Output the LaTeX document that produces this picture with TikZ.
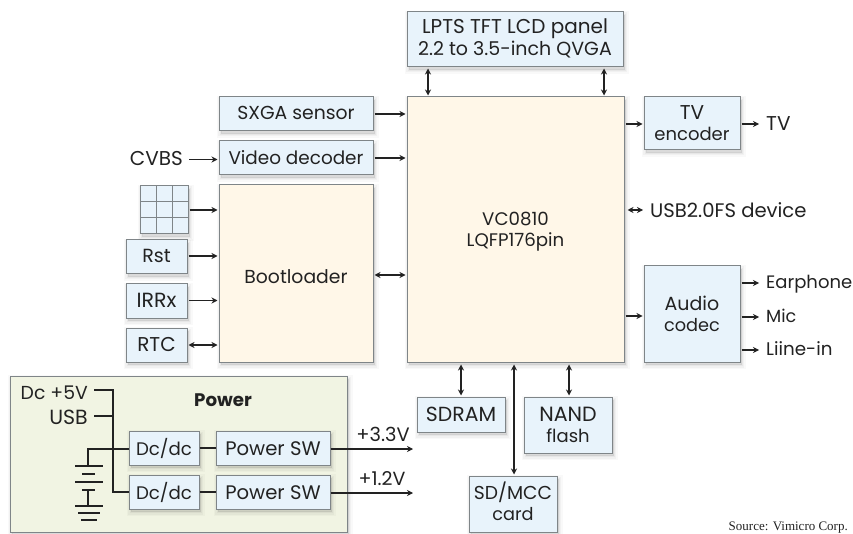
\documentclass[tikz,border=0pt]{standalone}
\usepackage{fontspec}
\setmainfont{Poppins}
\newfontfamily\srcfont{Liberation Serif}
\usetikzlibrary{arrows.meta,shadows,calc}
\definecolor{boxblue}{HTML}{E8F3FB}
\definecolor{boxcream}{HTML}{FFF7E8}
\definecolor{boxgreen}{HTML}{F1F4E3}
\definecolor{edgegray}{HTML}{7F8588}
\definecolor{ink}{HTML}{222222}
\tikzset{
  softshadow/.style={
    general shadow={draw=black,fill=black,line width=8pt,opacity=.025,shadow xshift=1.5pt,shadow yshift=-3pt},
    general shadow={draw=black,fill=black,line width=5pt,opacity=.03,shadow xshift=1.5pt,shadow yshift=-3pt},
    general shadow={draw=black,fill=black,line width=2pt,opacity=.04,shadow xshift=1.5pt,shadow yshift=-3pt}},
  basebox/.style={rectangle,draw=edgegray,line width=1pt,inner sep=0pt,align=center,text=ink,softshadow},
  bluebox/.style={basebox,fill=boxblue},
  creambox/.style={basebox,fill=boxcream},
  powerbox/.style={rectangle,draw=edgegray,line width=1pt,inner sep=0pt,fill=boxgreen},
  label/.style={inner sep=0pt,text=ink},
  wire/.style={draw=ink,line width=1.4pt},
  one/.style={wire,-{Stealth[length=6pt,width=6pt]},shorten >=1pt,shorten <=1pt},
  both/.style={wire,{Stealth[length=6pt,width=6pt]}-{Stealth[length=6pt,width=6pt]},shorten >=1pt,shorten <=1pt},
  plate/.style={draw=ink,line width=1.4pt},
}
\newcommand{\fs}[1]{\fontsize{#1}{22}\selectfont}
% one line of text: baseline #1 px below the node centre, size #2
\newcommand{\tl}[3]{\makebox[0pt]{\raisebox{-#1pt}[0pt][0pt]{\fs{#2}#3}}}
\newcommand{\bx}[7]{%
  \pgfmathsetmacro{\bxw}{#4-#2}\pgfmathsetmacro{\bxh}{#5-#3}%
  \pgfmathsetmacro{\bxx}{(#4+#2)/2}\pgfmathsetmacro{\bxy}{(#5+#3)/2}%
  \node[#6,minimum width=\bxw pt,minimum height=\bxh pt] (#1) at (\bxx,\bxy) {#7};}
\begin{document}
\begin{tikzpicture}[x=1pt,y=-1pt]
\useasboundingbox (0,0) rectangle (853,534);
\fill[white] (0,0) rectangle (853,534);
% power panel
\bx{power}{10}{376}{347}{532}{powerbox,softshadow}{}
% blocks
\bx{lcd}{407}{12}{623}{67}{bluebox}{\tl{-5.5}{20}{LPTS TFT LCD panel}\tl{16.5}{19}{2.2 to 3.5-inch QVGA}}
\bx{vc}{407}{97}{624}{362}{creambox}{\tl{-3.5}{18.2}{VC0810}\tl{17.5}{18.2}{LQFP176pin}}
\bx{sxga}{219}{97}{373}{131}{bluebox}{\tl{5.5}{18.8}{SXGA sensor}}
\bx{video}{219}{141}{373}{175}{bluebox}{\tl{6.7}{18.4}{Video decoder}}
\bx{boot}{219}{185}{373}{362}{creambox}{\tl{9.5}{18.8}{Bootloader}}
\bx{keypad}{140}{186}{188}{234}{bluebox}{}
\bx{rst}{126}{240}{187}{274}{bluebox}{\tl{5.7}{19}{Rst}}
\bx{irrx}{126}{284}{187}{318}{bluebox}{\tl{6}{20.5}{IRRx}}
\bx{rtc}{126}{328}{187}{362}{bluebox}{\tl{6}{20}{RTC}}
\bx{tvenc}{644}{97}{740}{150}{bluebox}{\tl{-4.2}{20}{TV}\tl{17.3}{18}{encoder}}
\bx{audio}{644}{266}{740}{362}{bluebox}{\tl{-4}{19}{Audio}\tl{17.7}{17.7}{codec}}
\bx{sdram}{417}{397}{505}{432}{bluebox}{\tl{6.5}{20.4}{SDRAM}}
\bx{nand}{524}{397}{612}{453}{bluebox}{\tl{-4}{20.6}{NAND}\tl{17.5}{18}{flash}}
\bx{sd}{469}{476}{557}{532}{bluebox}{\tl{-5}{18.7}{SD/MCC}\tl{16}{17.7}{card}}
\bx{dcA}{129}{431}{199}{465}{bluebox}{\tl{7}{18.2}{Dc/dc}}
\bx{dcB}{129}{475}{199}{509}{bluebox}{\tl{7}{18.2}{Dc/dc}}
\bx{swA}{216}{431}{330}{465}{bluebox}{\tl{7}{19.6}{Power SW}}
\bx{swB}{216}{475}{330}{509}{bluebox}{\tl{7}{19.6}{Power SW}}
% keypad grid
\draw[edgegray,line width=1pt]
  (156,186)--(156,234) (172,186)--(172,234) (140,202)--(188,202) (140,218)--(188,218);
% text labels
\node[label,anchor=base east,font=\fs{20}] (cvbs) at (183,165.5) {CVBS};
\node[label,anchor=base west,font=\fs{20}] (tv) at (766,130.3) {TV};
\node[label,anchor=base west,font=\fs{19.6}] (usbdev) at (650,218) {USB2.0FS device};
\node[label,anchor=base west,font=\fs{18}] (ear) at (766,288.3) {Earphone};
\node[label,anchor=base west,font=\fs{17.6}] (mic) at (766,322.7) {Mic};
\node[label,anchor=base west,font=\fs{18.3}] (line) at (766,355) {Liine-in};
\node[label,anchor=base east,font=\fs{18.8}] (dcfive) at (88,399.5) {Dc +5V};
\node[label,anchor=base east,font=\fs{20.5}] (usb) at (88,424.3) {USB};
\node[label,anchor=base,font=\fs{18.2}\bfseries] (ptitle) at (223,406) {Power};
\node[label,anchor=base,font=\fs{19.4}] (vA) at (383,441.3) {+3.3V};
\node[label,anchor=base,font=\fs{19}] (vB) at (382,485) {+1.2V};
\node[inner sep=0pt,anchor=base east,text=ink,font=\srcfont\fontsize{13}{15}\selectfont] (source) at (848,530.5) {Source: Vimicro Corp.};
% connectors
\draw[both] (lcd.south -| 428,0) -- (vc.north -| 428,0);
\draw[both] (lcd.south -| 604,0) -- (vc.north -| 604,0);
\draw[one] (sxga.east) -- (sxga.east -| vc.west);
\draw[one] (video.east) -- (video.east -| vc.west);
\draw[one] (cvbs.east |- 0,159.5) ++(5,0) -- (video.west |- 0,159.5);
\draw[one] (keypad.east) -- (keypad.east -| boot.west);
\draw[one] (rst.east |- 0,256) -- (boot.west |- 0,256);
\draw[one] (irrx.east |- 0,300.5) -- (boot.west |- 0,300.5);
\draw[both] (rtc.east) -- (rtc.east -| boot.west);
\draw[both] (boot.east |- 0,275) -- (vc.west |- 0,275);
\draw[one] (vc.east |- 0,124) -- (tvenc.west |- 0,124);
\draw[one] (tvenc.east |- 0,124) -- ($(tv.west |- 0,124)+(-6,0)$);
\draw[both] (vc.east |- 0,210) ++(2,0) -- ($(usbdev.west |- 0,210)+(-6,0)$);
\draw[one] (vc.east |- 0,316) -- (audio.west |- 0,316);
\draw[one] (audio.east |- 0,283) -- ($(ear.west |- 0,283)+(-6,0)$);
\draw[one] (audio.east |- 0,317) -- ($(mic.west |- 0,317)+(-6,0)$);
\draw[one] (audio.east |- 0,350) -- ($(line.west |- 0,350)+(-6,0)$);
\draw[both] (vc.south -| sdram.north) ++(0,1) -- (sdram.north);
\draw[both] (vc.south -| nand.north) ++(1,1) -- (nand.north -| 569,0);
\draw[both] (vc.south -| 514,0) ++(0,1) -- (sd.north -| 514,0);
% power wiring
\coordinate (bus) at (113,390);
\coordinate (vout) at (414,449);
\coordinate (voutb) at (414,493);
\draw[wire] (dcfive.east |- bus) ++(6,0) -- (bus) -- (bus |- dcB.west) -- (dcB.west);
\draw[wire] (usb.east |- 0,416) ++(6,0) -- (bus |- 0,416);
\draw[wire] (dcA.west |- 0,449) -- (88,449) -- (88,466);
\draw[wire] (dcA.east) -- (swA.west);
\draw[wire] (dcB.east) -- (swB.west);
\draw[one,shorten <=0pt] (swA.east |- vout) -- (vout);
\draw[one,shorten <=0pt] (swB.east |- voutb) -- (voutb);
% battery
\draw[plate] (75,466)--(103,466) (82,474)--(95,474) (75,482)--(103,482)
  (82,490)--(95,490) (88,490)--(88,506) (75,506)--(103,506) (78,513)--(100,513) (81,520)--(97,520);
\end{tikzpicture}
\end{document}
